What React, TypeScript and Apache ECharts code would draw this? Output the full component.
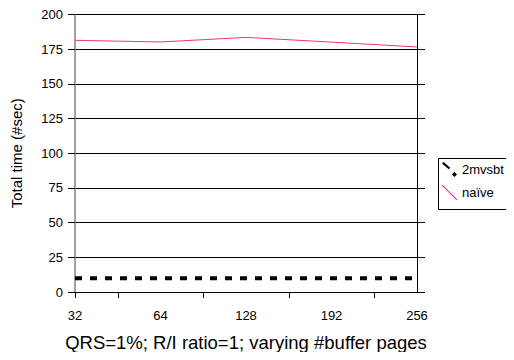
import React, { useEffect, useRef } from "react";
import * as echarts from "echarts";

const categories = ["32", "64", "128", "192", "256"];
const mvsbtValues = [10, 10, 10, 10, 10];
const naiveValues = [181.4, 180.2, 183.5, 180.1, 176.6];
const yTicks = [0, 25, 50, 75, 100, 125, 150, 175, 200];

const FONT = "Liberation Sans, Arial, sans-serif";

const ICON_DASH =
  "path://M0,1.5 L1.5,0 L8,5.5 L6.5,7 Z M12,9.5 L14.5,12 L12,14.5 L9.5,12 Z";
const ICON_LINE = "path://M0,0 L0.8,0 L15,14.2 L15,15 L14.2,15 L0,0.8 Z";

export default function App() {
  const ref = useRef<HTMLDivElement>(null);
  useEffect(() => {
    if (!ref.current) return;
    const chart = echarts.init(ref.current, undefined, { renderer: "svg" });
    const toPairs = (vals: number[]) => vals.map((v, i) => [i, v]);
    chart.setOption({
      animation: false,
      backgroundColor: "#fff",
      grid: { left: 75, right: 97, top: 14.5, bottom: 68, containLabel: false },
      xAxis: {
        type: "value",
        min: 0,
        max: categories.length - 1,
        name: "QRS=1%; R/I ratio=1; varying #buffer pages",
        nameLocation: "middle",
        nameGap: 41,
        nameTextStyle: { fontFamily: FONT, fontSize: 18.5, color: "#000" },
        axisLine: { show: true, lineStyle: { color: "#000", width: 1 } },
        axisTick: {
          show: true,
          length: 6,
          lineStyle: { color: "#000" },
          customValues: [0, 0.5, 1.5, 2.5, 3.5],
        },
        axisLabel: {
          customValues: categories.map((_, i) => i),
          formatter: (v: number) => categories[Math.round(v)] ?? "",
          margin: 17,
          fontFamily: FONT,
          fontSize: 13,
          color: "#000",
        },
        splitLine: { show: false },
      },
      yAxis: [
        {
          type: "value",
          min: 0,
          max: 200,
          interval: 25,
          name: "Total time (#sec)",
          nameLocation: "middle",
          nameGap: 51,
          nameRotate: 90,
          nameTextStyle: { fontFamily: FONT, fontSize: 15, color: "#000" },
          axisLine: { show: true, lineStyle: { color: "#808080", width: 1.5 } },
          axisTick: { show: true, length: 7, lineStyle: { color: "#000" } },
          axisLabel: {
            margin: 12,
            fontFamily: FONT,
            fontSize: 13,
            color: "#000",
            customValues: yTicks,
          },
          splitLine: { show: true, lineStyle: { color: "#000", width: 1 } },
        },
        {
          type: "value",
          min: 0,
          max: 200,
          interval: 25,
          position: "right",
          axisLine: { show: true, lineStyle: { color: "#000", width: 1 } },
          axisTick: { show: true, length: 8, lineStyle: { color: "#000" } },
          axisLabel: { show: false },
          splitLine: { show: false },
        },
      ],
      legend: {
        orient: "vertical",
        left: 440,
        top: 160,
        padding: 2,
        itemWidth: 15,
        itemHeight: 15,
        itemGap: 8,
        selectedMode: false,
        textStyle: {
          fontFamily: FONT,
          fontSize: 13,
          color: "#000",
          padding: [6, 0, 0, 0],
        },
        data: [
          { name: "2mvsbt", icon: ICON_DASH, itemStyle: { color: "#000" } },
          { name: "naïve", icon: ICON_LINE, itemStyle: { color: "#f5336e" } },
        ],
      },
      graphic: [
        {
          type: "rect",
          shape: { x: 438.5, y: 158.5, width: 75, height: 51 },
          style: { fill: "none", stroke: "#000", lineWidth: 1 },
          z: 0,
        },
      ],
      series: [
        {
          name: "2mvsbt",
          type: "line",
          data: toPairs(mvsbtValues),
          showSymbol: false,
          symbol: "none",
          lineStyle: { color: "#000", width: 4, type: [7, 8] },
          itemStyle: { color: "#000" },
          z: 3,
        },
        {
          name: "naïve",
          type: "line",
          data: toPairs(naiveValues),
          showSymbol: false,
          symbol: "none",
          lineStyle: { color: "#f5336e", width: 1 },
          itemStyle: { color: "#f5336e" },
          z: 3,
        },
      ],
    });
    return () => chart.dispose();
  }, []);
  return <div ref={ref} style={{ width: 514, height: 360, margin: -8 }} />;
}
